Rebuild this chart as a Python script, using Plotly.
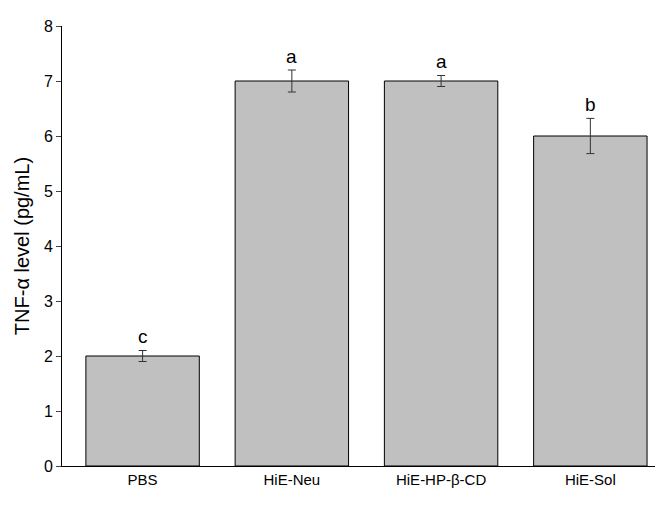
import plotly.graph_objects as go

groups = ['PBS', 'HiE-Neu', 'HiE-HP-β-CD', 'HiE-Sol']
tnf = [2.0, 7.0, 7.0, 6.0]
err = [0.1, 0.2, 0.1, 0.32]
letters = ['c', 'a', 'a', 'b']

fig = go.Figure()
fig.add_trace(go.Bar(
    x=groups, y=tnf, width=0.76,
    marker=dict(color='#c0c0c0', line=dict(color='black', width=1)),
    error_y=dict(type='data', array=err, color='#333333', thickness=1, width=4),
))
# letters above the error bars
for g, v, e, t in zip(groups, tnf, err, letters):
    fig.add_annotation(x=g, y=v + e, text=t, showarrow=False, yshift=14,
                       font=dict(size=19, color='black'))

fig.update_layout(
    width=663, height=527, margin=dict(l=54, r=12, t=10, b=69),
    plot_bgcolor='white', paper_bgcolor='white', showlegend=False,
    font=dict(family='Arial, Liberation Sans', color='black'),
)
fig.update_xaxes(range=[-0.54, 3.46], showline=True, linecolor='black', ticks='',
                 tickfont=dict(size=15), mirror=False)
fig.update_yaxes(range=[0, 8], dtick=1, showline=True, linecolor='black', ticks='outside',
                 ticklen=5, tickfont=dict(size=16), showgrid=False, zeroline=False,
                 title=dict(text='TNF-α level (pg/mL)', font=dict(size=20), standoff=8))
fig.write_html('out.html')
